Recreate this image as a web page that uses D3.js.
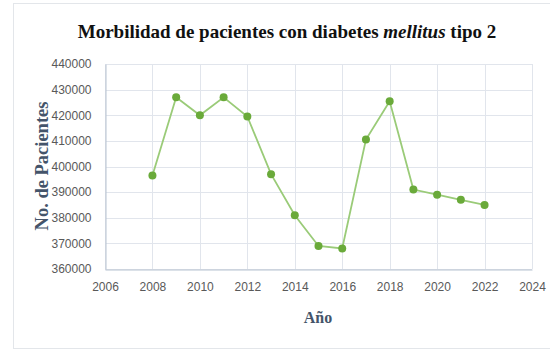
<!DOCTYPE html>
<html>
<head>
<meta charset="utf-8">
<script src="https://cdn.jsdelivr.net/npm/d3@7"></script>
<style>
  html, body { margin: 0; padding: 0; background: #fff; }
  svg { display: block; }
</style>
</head>
<body>
<svg id="chart" width="550" height="352"></svg>
<script>
// Morbidity of type 2 diabetes patients per year
const years = [2008, 2009, 2010, 2011, 2012, 2013, 2014, 2015, 2016, 2017, 2018, 2019, 2020, 2021, 2022];
const patients = [396500, 427000, 420000, 427000, 419500, 397000, 381000, 369000, 368000, 410500, 425500, 391000, 389000, 387000, 385000];
const xTicks = [2006, 2008, 2010, 2012, 2014, 2016, 2018, 2020, 2022, 2024];
const yTicks = [360000, 370000, 380000, 390000, 400000, 410000, 420000, 430000, 440000];

const svg = d3.select("#chart");
const W = 550, H = 352;
const plot = { left: 105, right: 532, top: 64, bottom: 269 };

// outer chart frame
svg.append("rect")
  .attr("x", 13.5).attr("y", 3.5)
  .attr("width", W + 10).attr("height", 345)
  .attr("fill", "#fff")
  .attr("stroke", "#e3e6ea").attr("stroke-width", 1);

const x = d3.scaleLinear().domain([2006, 2024]).range([plot.left, plot.right]);
const y = d3.scaleLinear().domain([360000, 440000]).range([plot.bottom, plot.top]);

// gridlines
svg.append("g").selectAll("line.h").data(yTicks).join("line")
  .attr("x1", plot.left).attr("x2", plot.right)
  .attr("y1", d => Math.round(y(d)) + 0.5).attr("y2", d => Math.round(y(d)) + 0.5)
  .attr("stroke", "#e1e5ec").attr("stroke-width", 1);
svg.append("g").selectAll("line.v").data(xTicks).join("line")
  .attr("y1", plot.top).attr("y2", plot.bottom)
  .attr("x1", d => Math.round(x(d)) + 0.5).attr("x2", d => Math.round(x(d)) + 0.5)
  .attr("stroke", "#e1e5ec").attr("stroke-width", 1);

// axes
const xAxis = svg.append("g")
  .attr("transform", `translate(0,${Math.round(plot.bottom) + 0.5})`)
  .call(d3.axisBottom(x).tickValues(xTicks).tickFormat(d3.format("d")).tickSize(0).tickPadding(13));
const yAxis = svg.append("g")
  .attr("transform", `translate(${plot.left + 0.5},0)`)
  .call(d3.axisLeft(y).tickValues(yTicks).tickFormat(d3.format("d")).tickSize(0).tickPadding(14));
[xAxis, yAxis].forEach(a => {
  a.select(".domain").attr("stroke", "#b8c3d1");
  a.selectAll("text")
    .attr("fill", "#595959")
    .style("font-family", "'Liberation Sans Narrow', 'Liberation Sans', Arial, sans-serif")
    .style("font-size", "12px");
});

// series line and markers
const line = d3.line().x((d, i) => x(years[i])).y(d => y(d));
svg.append("path")
  .datum(patients)
  .attr("d", line)
  .attr("fill", "none")
  .attr("stroke", "#9acb78")
  .attr("stroke-width", 1.8);
svg.append("g").selectAll("circle").data(patients).join("circle")
  .attr("cx", (d, i) => x(years[i]))
  .attr("cy", d => y(d))
  .attr("r", 4)
  .attr("fill", "#6aaa3a");

// titles
const title = svg.append("text")
  .attr("x", 287).attr("y", 38)
  .attr("text-anchor", "middle")
  .style("font-family", "'Liberation Serif', 'Times New Roman', serif")
  .style("font-weight", "bold")
  .style("font-size", "19px")
  .attr("fill", "#111");
title.append("tspan").text("Morbilidad de pacientes con diabetes ");
title.append("tspan").style("font-style", "italic").text("mellitus");
title.append("tspan").text(" tipo 2");

svg.append("text")
  .attr("transform", "translate(48,166) rotate(-90)")
  .attr("text-anchor", "middle")
  .style("font-family", "'Liberation Serif', 'Times New Roman', serif")
  .style("font-weight", "bold")
  .style("font-size", "18.5px")
  .attr("fill", "#44546a")
  .text("No. de Pacientes");

svg.append("text")
  .attr("x", 318).attr("y", 323)
  .attr("text-anchor", "middle")
  .style("font-family", "'Liberation Serif', 'Times New Roman', serif")
  .style("font-weight", "bold")
  .style("font-size", "16px")
  .attr("fill", "#44546a")
  .text("Año");
</script>
</body>
</html>
